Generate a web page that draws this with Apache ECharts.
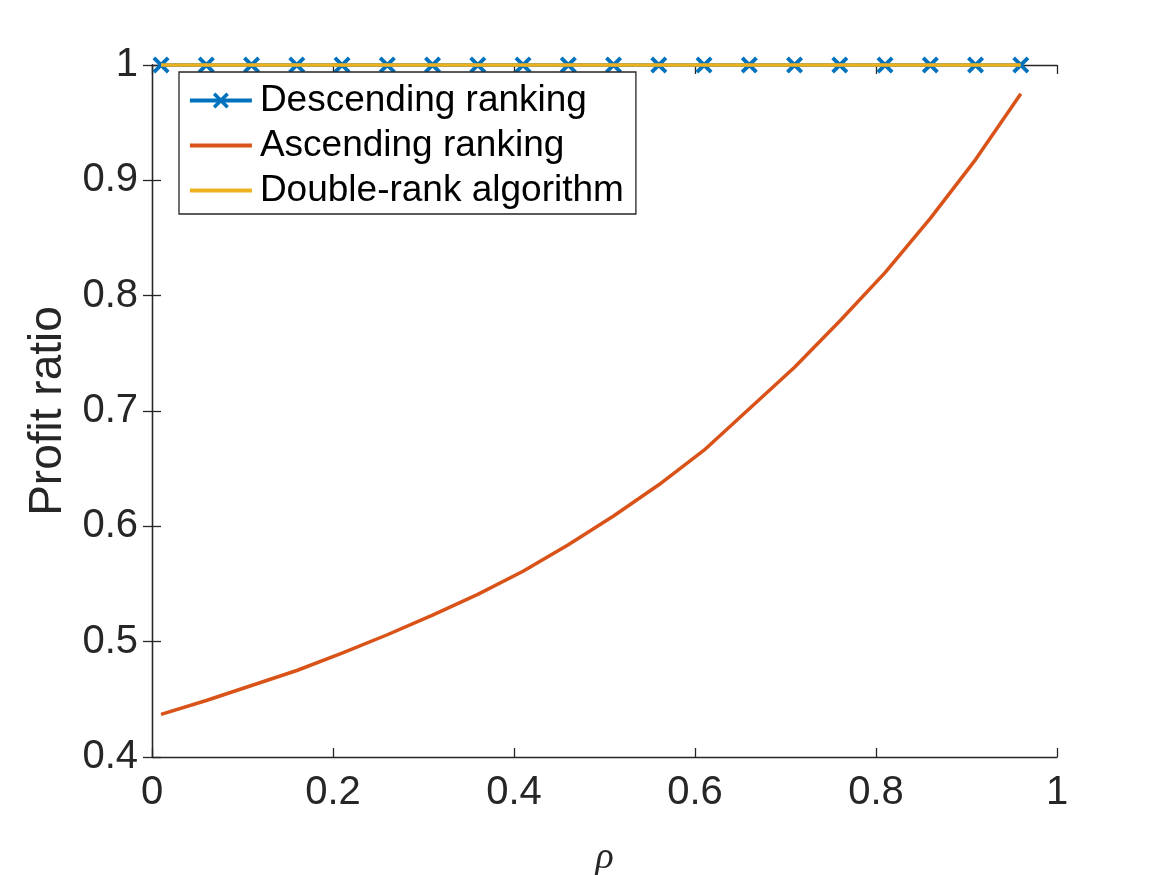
<!DOCTYPE html>
<html>
<head>
<meta charset="utf-8">
<script src="https://cdn.jsdelivr.net/npm/echarts@6/dist/echarts.min.js"></script>
<style>html,body{margin:0;padding:0;background:#fff;}#chart{width:1167px;height:875px;}</style>
</head>
<body>
<div id="chart"></div>
<script>
const rho = [0.01,0.06,0.11,0.16,0.21,0.26,0.31,0.36,0.41,0.46,0.51,0.56,0.61,0.66,0.71,0.76,0.81,0.86,0.91,0.96];
const descending = [1,1,1,1,1,1,1,1,1,1,1,1,1,1,1,1,1,1,1,1];
const ascending = [0.437,0.449,0.462,0.475,0.490,0.506,0.523,0.541,0.561,0.584,0.609,0.636,0.666,0.702,0.738,0.778,0.820,0.867,0.918,0.975];
const doubleRank = [1,1,1,1,1,1,1,1,1,1,1,1,1,1,1,1,1,1,1,1];
const seriesNames = ['Descending ranking','Ascending ranking','Double-rank algorithm'];

const pair = (xs, ys) => xs.map((x,i)=>[x, ys[i]]);
const axisColor = '#262626';
const font = 'Liberation Sans, Arial, Helvetica, sans-serif';
const crossPath = 'path://M0,1.6 L1.6,0 L5,3.4 L8.4,0 L10,1.6 L6.6,5 L10,8.4 L8.4,10 L5,6.6 L1.6,10 L0,8.4 L3.4,5 Z';
const barIcon = 'path://M0,0 L62,0 L62,3.8 L0,3.8 Z';

const chart = echarts.init(document.getElementById('chart'), null, {renderer:'canvas'});
const baseAxis = {
  axisLine:{show:true, lineStyle:{color:axisColor, width:1.3}},
  axisTick:{show:true, inside:true, length:9, lineStyle:{color:axisColor, width:1.3}},
  splitLine:{show:false}
};
chart.setOption({
  animation:false,
  backgroundColor:'#ffffff',
  grid:{left:152, top:65, width:905, height:692, containLabel:false, outerBoundsMode:'none'},
  legend:{
    left:179, top:72, orient:'vertical',
    itemWidth:62, itemHeight:20, itemGap:8,
    padding:[10,12,5,9],
    borderColor:axisColor, borderWidth:1.3, backgroundColor:'#fff',
    lineStyle:{width:3.8},
    textStyle:{fontFamily:font, fontSize:37, color:'#000', padding:[0,0,0,3]},
    data:[
      {name:seriesNames[0]},
      {name:seriesNames[1], icon:barIcon},
      {name:seriesNames[2], icon:barIcon}
    ]
  },
  xAxis:[
    Object.assign({}, baseAxis, {type:'value', min:0, max:1, interval:0.2, position:'bottom',
      name:'ρ', nameLocation:'middle', nameGap:82,
      nameTextStyle:{fontFamily:'Liberation Serif, DejaVu Serif, serif', fontStyle:'italic', fontSize:38, color:axisColor},
      axisLabel:{fontFamily:font, fontSize:40, color:axisColor, margin:16}}),
    Object.assign({}, baseAxis, {type:'value', min:0, max:1, interval:0.2, position:'top', axisLabel:{show:false}})
  ],
  yAxis:[
    Object.assign({}, baseAxis, {type:'value', min:0.4, max:1, interval:0.1, position:'left',
      name:'Profit ratio', nameLocation:'middle', nameGap:80,
      nameTextStyle:{fontFamily:font, fontSize:46, color:axisColor},
      axisLabel:{fontFamily:font, fontSize:40, color:axisColor, margin:14,
        formatter:v=>String(Math.round(v*10)/10)}}),
    Object.assign({}, baseAxis, {type:'value', min:0.4, max:1, interval:0.1, position:'right', axisLabel:{show:false}})
  ],
  series:[
    {name:seriesNames[0], type:'line', data:pair(rho, descending), symbol:crossPath, symbolSize:17,
     showSymbol:true, clip:false, lineStyle:{color:'#0072BD', width:3.5}, itemStyle:{color:'#0072BD'}, z:2},
    {name:seriesNames[1], type:'line', data:pair(rho, ascending), symbol:'none', clip:false,
     lineStyle:{color:'#D95319', width:3.5}, itemStyle:{color:'#D95319'}, z:3},
    {name:seriesNames[2], type:'line', data:pair(rho, doubleRank), symbol:'none', clip:false,
     lineStyle:{color:'#EDB120', width:3.5}, itemStyle:{color:'#EDB120'}, z:4}
  ]
});
</script>
</body>
</html>
